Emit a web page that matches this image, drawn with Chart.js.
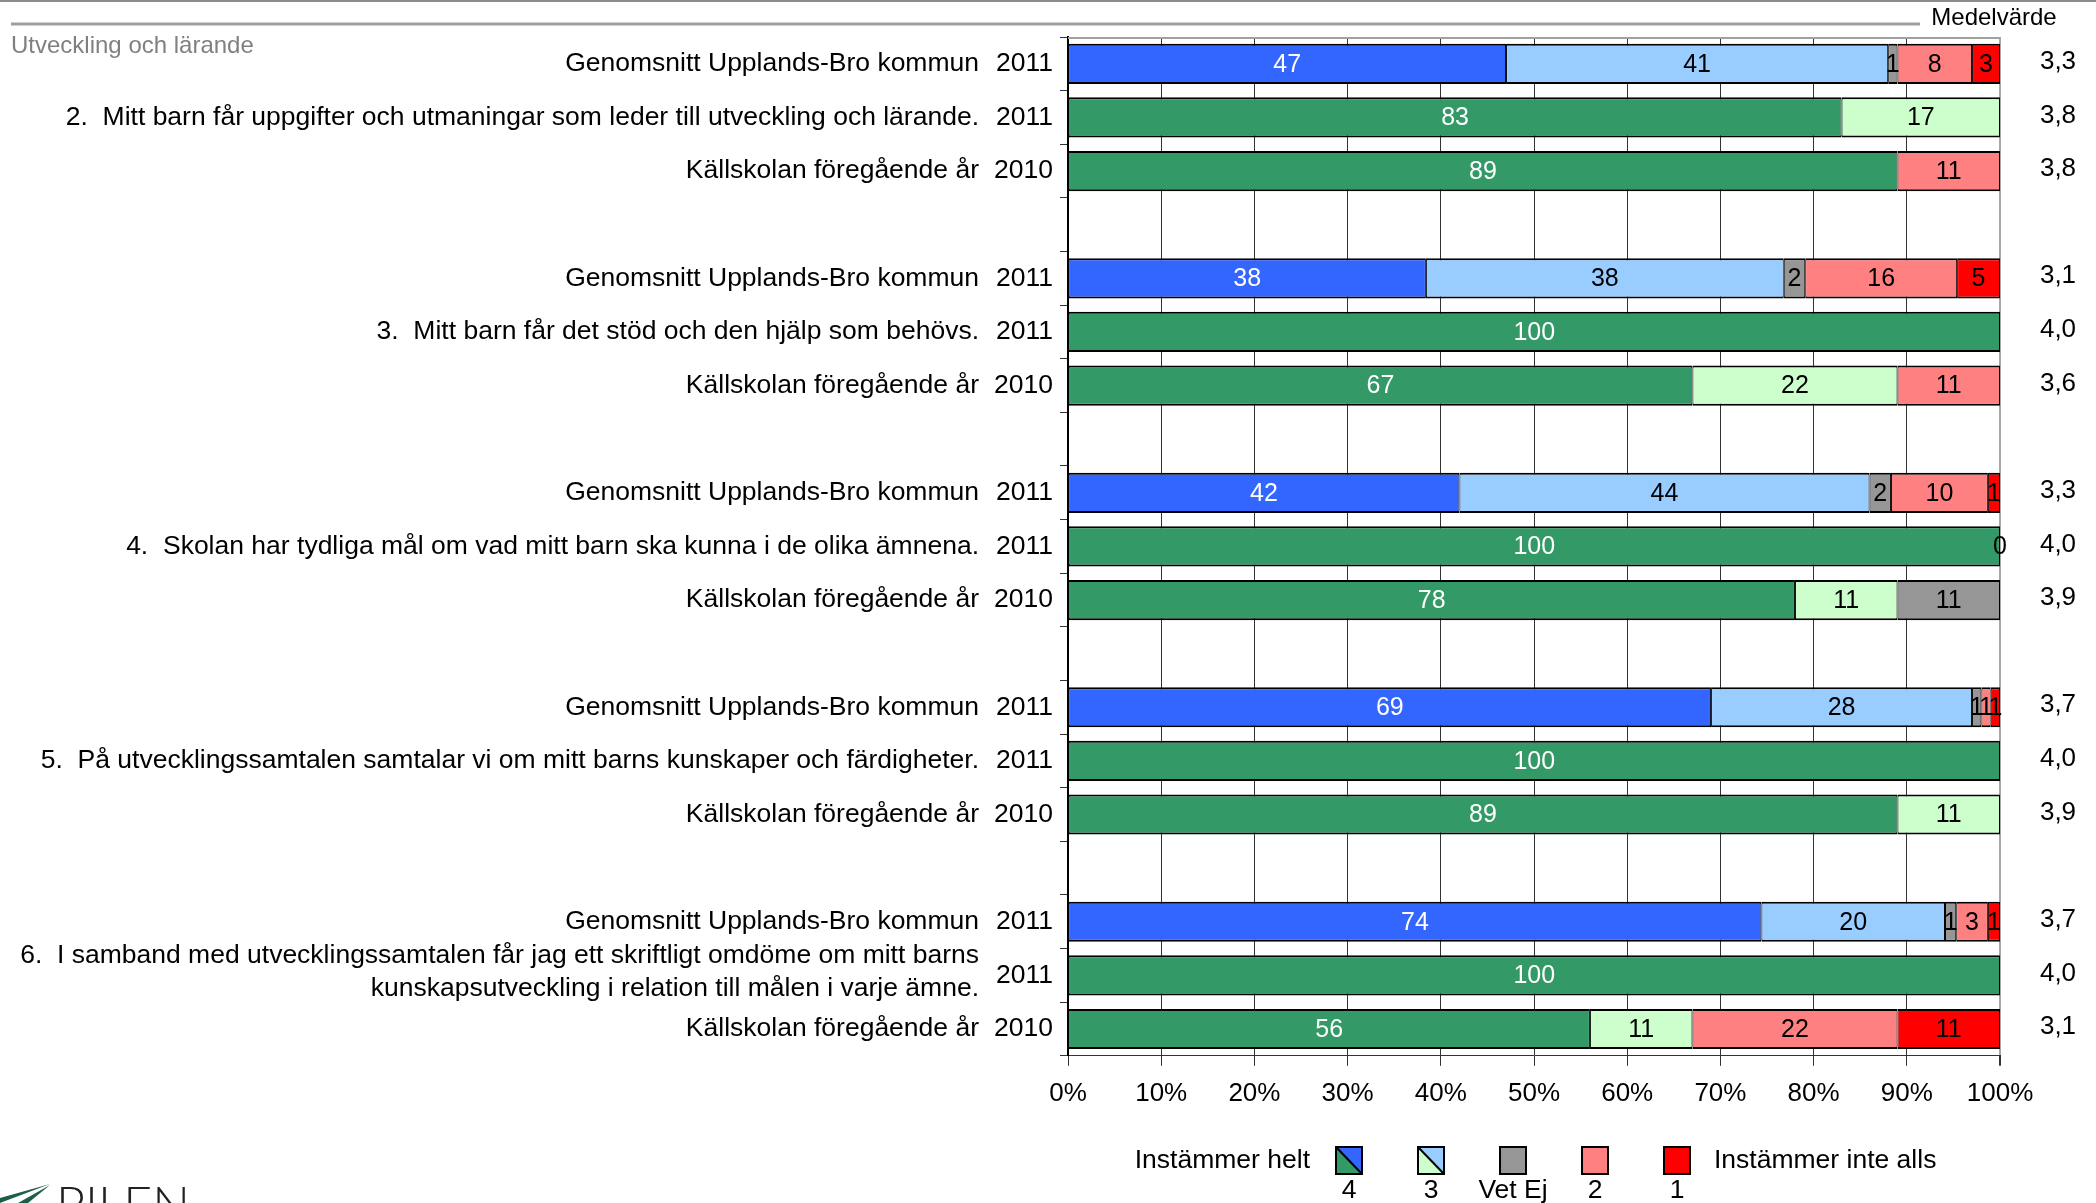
<!DOCTYPE html>
<html><head><meta charset="utf-8">
<script src="https://cdn.jsdelivr.net/npm/chart.js@4.4.0/dist/chart.umd.min.js"></script>
<style>html,body{margin:0;padding:0;background:#fff;overflow:hidden}canvas{display:block}</style>
</head><body>
<canvas id="c" width="2096" height="1203"></canvas>
<script>
// ---------- DATA ----------
const sectionTitle = "Utveckling och lärande";
const meanTitle = "Medelvärde";
const rowLabels = [
  "Genomsnitt Upplands-Bro kommun",
  "2.  Mitt barn får uppgifter och utmaningar som leder till utveckling och lärande.",
  "Källskolan föregående år",
  "",
  "Genomsnitt Upplands-Bro kommun",
  "3.  Mitt barn får det stöd och den hjälp som behövs.",
  "Källskolan föregående år",
  "",
  "Genomsnitt Upplands-Bro kommun",
  "4.  Skolan har tydliga mål om vad mitt barn ska kunna i de olika ämnena.",
  "Källskolan föregående år",
  "",
  "Genomsnitt Upplands-Bro kommun",
  "5.  På utvecklingssamtalen samtalar vi om mitt barns kunskaper och färdigheter.",
  "Källskolan föregående år",
  "",
  "Genomsnitt Upplands-Bro kommun",
  "6.  I samband med utvecklingssamtalen får jag ett skriftligt omdöme om mitt barns\nkunskapsutveckling i relation till målen i varje ämne.",
  "Källskolan föregående år"
];
const rowYears = ["2011","2011","2010","","2011","2011","2010","","2011","2011","2010","","2011","2011","2010","","2011","2011","2010"];
const rowType  = ["k","s","s","","k","s","s","","k","s","s","","k","s","s","","k","s","s"];
const meanValues = ["3,3","3,8","3,8","","3,1","4,0","3,6","","3,3","4,0","3,9","","3,7","4,0","3,9","","3,7","4,0","3,1"];

const seriesNames = ["4","3","Vet Ej","2","1"];
const val4   = [47, 83, 89, null, 38.4, 100, 67, null, 42.0, 100, 78, null, 69, 100, 89, null, 74.4, 100, 56];
const val3   = [41, 17, null, null, 38.4, null, 22, null, 44.0, null, 11, null, 28, null, 11, null, 19.7, null, 11];
const valVet = [1, null, null, null, 2.3, null, null, null, 2.3, null, 11, null, 1, null, null, null, 1.2, null, null];
const val2   = [8, null, 11, null, 16.3, null, 11, null, 10.4, null, null, null, 1, null, null, null, 3.4, null, 22];
const val1   = [3, null, null, null, 4.6, null, null, null, 1.3, 0, null, null, 1, null, null, null, 1.3, null, 11];

const legendLeftText = "Instämmer helt";
const legendRightText = "Instämmer inte alls";

// ---------- STYLE ----------
const kommunColors = ['#3366FF','#99CCFF','#969696','#FF8080','#FF0000'];
const schoolColors = ['#339966','#CCFFCC','#969696','#FF8080','#FF0000'];
const labelColors  = ['#FFFFFF','#000000','#000000','#000000','#000000'];
const FONT = "'Liberation Sans', Arial, Helvetica, sans-serif";

Chart.defaults.font.family = FONT;
Chart.defaults.font.size = 26;
Chart.defaults.color = '#000';

const allValues = [val4, val3, valVet, val2, val1];
const datasets = allValues.map((arr, di) => ({
  label: seriesNames[di],
  data: arr,
  backgroundColor: ctx => (rowType[ctx.dataIndex] === 'k' ? kommunColors : schoolColors)[di],
  borderColor: '#000',
  borderWidth: {top: 2, bottom: 2, left: 1, right: 1},
  borderSkipped: false,
  barPercentage: 0.75,
  categoryPercentage: 1.0
}));

const decorPlugin = {
  id: 'decor',
  beforeDatasetsDraw(chart) {
    const {ctx, chartArea: a} = chart;
    ctx.save();
    ctx.strokeStyle = '#a0a0a0';
    ctx.lineWidth = 2;
    ctx.beginPath(); ctx.moveTo(a.left, a.top + 1); ctx.lineTo(a.right, a.top + 1); ctx.stroke();
    ctx.restore();
  },
  afterDatasetsDraw(chart) {
    const {ctx} = chart;
    const y = chart.scales.y;
    ctx.save();
    // bar value labels
    ctx.font = `25px ${FONT}`;
    ctx.textAlign = 'center';
    ctx.textBaseline = 'middle';
    chart.data.datasets.forEach((ds, di) => {
      const meta = chart.getDatasetMeta(di);
      meta.data.forEach((el, i) => {
        const v = ds.data[i];
        if (v === null || v === undefined) return;
        ctx.fillStyle = labelColors[di];
        ctx.fillText(String(Math.round(v)), (el.x + el.base) / 2, el.y + 1);
      });
    });
    // left labels
    ctx.fillStyle = '#000';
    ctx.font = `26.5px ${FONT}`;
    ctx.textAlign = 'right';
    rowLabels.forEach((lab, i) => {
      const py = y.getPixelForValue(i);
      if (lab) {
        const lines = lab.split('\n');
        const lh = 33;
        const off = lines.length > 1 ? -3 : 0;
        lines.forEach((ln, k) => {
          ctx.fillText(ln, 979, py + off + (k - (lines.length - 1) / 2) * lh);
        });
      }
      if (rowYears[i]) ctx.fillText(rowYears[i], 1053, py);
    });
    // mean values
    ctx.textAlign = 'center';
    ctx.font = `26px ${FONT}`;
    meanValues.forEach((m, i) => {
      if (m) ctx.fillText(m, 2058, y.getPixelForValue(i) - 2);
    });
    ctx.font = `24px ${FONT}`;
    ctx.fillText(meanTitle, 1994, 18);
    // section title
    ctx.fillStyle = '#808080';
    ctx.textAlign = 'left';
    ctx.font = `24px ${FONT}`;
    ctx.fillText(sectionTitle, 11, 46);
    // top lines
    ctx.strokeStyle = '#8c8c8c';
    ctx.lineWidth = 2;
    ctx.beginPath(); ctx.moveTo(0, 1); ctx.lineTo(2096, 1); ctx.stroke();
    ctx.strokeStyle = '#a0a0a0';
    ctx.lineWidth = 3;
    ctx.beginPath(); ctx.moveTo(11, 24); ctx.lineTo(1920, 24); ctx.stroke();

    // legend
    const lx = [1349, 1431, 1513, 1595, 1677];
    const sw = 26, sh = 27, sTop = 1147;
    ctx.fillStyle = '#000';
    ctx.font = `26.5px ${FONT}`;
    ctx.textAlign = 'right';
    ctx.fillText(legendLeftText, 1310, 1161);
    ctx.textAlign = 'left';
    ctx.fillText(legendRightText, 1714, 1161);
    seriesNames.forEach((nm, k) => {
      const x0 = lx[k] - sw / 2, y0 = sTop;
      if (kommunColors[k] !== schoolColors[k]) {
        ctx.fillStyle = kommunColors[k];
        ctx.beginPath(); ctx.moveTo(x0, y0); ctx.lineTo(x0 + sw, y0); ctx.lineTo(x0 + sw, y0 + sh); ctx.closePath(); ctx.fill();
        ctx.fillStyle = schoolColors[k];
        ctx.beginPath(); ctx.moveTo(x0, y0); ctx.lineTo(x0, y0 + sh); ctx.lineTo(x0 + sw, y0 + sh); ctx.closePath(); ctx.fill();
        ctx.strokeStyle = '#000'; ctx.lineWidth = 2;
        ctx.beginPath(); ctx.moveTo(x0, y0); ctx.lineTo(x0 + sw, y0 + sh); ctx.stroke();
      } else {
        ctx.fillStyle = kommunColors[k];
        ctx.fillRect(x0, y0, sw, sh);
      }
      ctx.strokeStyle = '#000'; ctx.lineWidth = 2;
      ctx.strokeRect(x0, y0, sw, sh);
      ctx.fillStyle = '#000';
      ctx.textAlign = 'center';
      ctx.fillText(nm, lx[k], 1191);
    });

    // logo (partially cut)
    ctx.fillStyle = '#1d5e4b';
    ctx.beginPath(); ctx.moveTo(0, 1198); ctx.lineTo(50, 1184); ctx.lineTo(0, 1203); ctx.closePath(); ctx.fill();
    ctx.beginPath(); ctx.moveTo(18, 1203); ctx.lineTo(50, 1185); ctx.lineTo(28, 1203); ctx.closePath(); ctx.fill();
    ctx.fillStyle = '#222';
    ctx.textAlign = 'left';
    ctx.textBaseline = 'alphabetic';
    ctx.font = `300 50px Lato, ${FONT}`;
    ctx.fillText('PILEN', 56, 1222);
    ctx.restore();
  }
};

new Chart(document.getElementById('c'), {
  type: 'bar',
  data: { labels: rowLabels.map((l, i) => i), datasets },
  options: {
    indexAxis: 'y',
    responsive: false,
    animation: false,
    devicePixelRatio: 1,
    layout: { padding: { left: 1060, right: 96, top: 37, bottom: 82 } },
    plugins: { legend: { display: false }, tooltip: { enabled: false } },
    scales: {
      x: {
        type: 'linear', stacked: true, min: 0, max: 100,
        ticks: { stepSize: 10, callback: v => v + '%', padding: 12, color: '#000', font: { size: 26 }, maxRotation: 0 },
        grid: {
          color: c => (c.tick && c.tick.value === 100) ? '#a8a8a8' : '#333',
          lineWidth: c => (c.tick && c.tick.value === 100) ? 2 : 1,
          tickColor: '#333', tickLength: 10
        },
        border: { display: true, color: '#333', width: 1 }
      },
      y: {
        type: 'category', stacked: true, offset: true,
        ticks: { display: false },
        grid: { offset: true, drawOnChartArea: false, drawTicks: true, tickLength: 8, color: '#333' },
        border: { display: true, color: '#000', width: 2 }
      }
    }
  },
  plugins: [decorPlugin]
});
</script>
</body></html>
